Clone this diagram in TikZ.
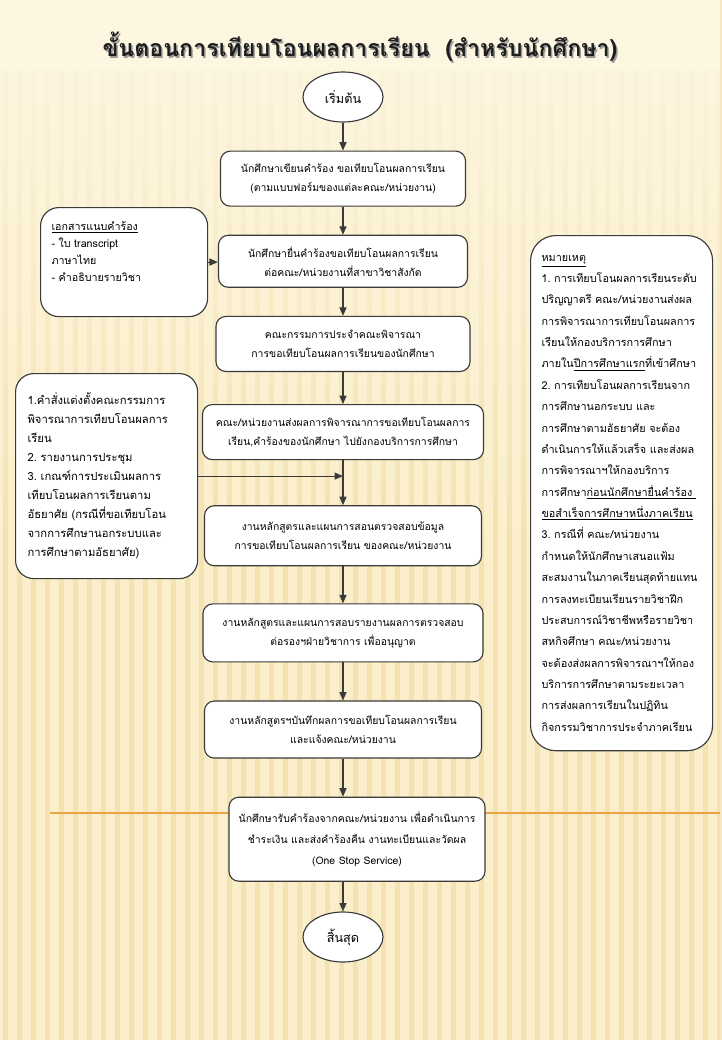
\documentclass[tikz,border=0pt]{standalone}
\usepackage{fontspec}
\setmainfont[Script=Thai]{Loma}
\usepackage{xcolor}
\usetikzlibrary{shapes.geometric,arrows.meta,positioning,calc,fadings}
\definecolor{paper}{HTML}{FBEFCB}
\definecolor{paperlight}{HTML}{FDF6E0}
\definecolor{stripe}{HTML}{F1DCA2}
\definecolor{edge}{HTML}{3A3A3A}
\definecolor{orangeline}{HTML}{EBA445}
\definecolor{titleink}{HTML}{1E1E1E}

\begin{document}
\begin{tikzpicture}[
    x=0.025cm, y=-0.025cm,
    box/.style={rectangle, draw=edge, fill=white, line width=0.8pt, rounded corners=7pt, minimum height=1.375cm, align=center, font=\fontsize{7.4}{13.5}\selectfont},
    sidebox/.style={rectangle, draw=edge, fill=white, line width=0.8pt, rounded corners=13pt, align=left, anchor=north west, font=\fontsize{7.6}{12}\selectfont},
    terminal/.style={ellipse, draw=edge, fill=white, line width=0.8pt, minimum width=2cm, minimum height=1.25cm, font=\fontsize{9}{12}\selectfont},
    line/.style={-{Triangle[length=6pt,width=5pt]}, line width=0.8pt, draw=edge}
]
    % background
    \fill[paper] (0,0) rectangle (720,1040);
    \foreach \sx in {3,17,...,720} {
        \fill[stripe, opacity=0.65] (\sx,0) rectangle ++(5,1040);
    }
    \fill[paperlight, path fading=south] (0,0) rectangle (720,560);
    \fill[paperlight] (0,0) rectangle (720,70);
    \draw[orangeline, line width=1pt] (50,813) -- (720,813);
    \useasboundingbox (0,0) rectangle (720,1040);

    % title
    \node[font=\fontsize{16.5}{20}\selectfont\bfseries, text=black!40] (titleshadow) at (361.5,48.5) {ขั้นตอนการเทียบโอนผลการเรียน~~(สำหรับนักศึกษา)};
    \node[font=\fontsize{16.5}{20}\selectfont\bfseries, text=titleink] (title) at (360,47) {ขั้นตอนการเทียบโอนผลการเรียน~~(สำหรับนักศึกษา)};

    % main flow
    \node[terminal] (start) at (343,97) {เริ่มต้น};
    \node[box, minimum width=6.125cm, below=0.7cm of start] (write) {นักศึกษาเขียนคำร้อง ขอเทียบโอนผลการเรียน\\(ตามแบบฟอร์มของแต่ละคณะ/หน่วยงาน)};
    \node[box, minimum width=6.225cm, minimum height=1.3cm, below=0.7cm of write] (submit) {นักศึกษายื่นคำร้องขอเทียบโอนผลการเรียน\\ต่อคณะ/หน่วยงานที่สาขาวิชาสังกัด};
    \node[box, minimum width=6.35cm, below=0.7cm of submit] (committee) {คณะกรรมการประจำคณะพิจารณา\\การขอเทียบโอนผลการเรียนของนักศึกษา};
    \node[box, minimum width=7.025cm, below=0.8cm of committee] (forward) {คณะ/หน่วยงานส่งผลการพิจารณาการขอเทียบโอนผลการ\\เรียน,คำร้องของนักศึกษา ไปยังกองบริการการศึกษา};
    \node[box, minimum width=6.925cm, minimum height=1.5cm, below=1.125cm of forward] (check) {งานหลักสูตรและแผนการสอนตรวจสอบข้อมูล\\การขอเทียบโอนผลการเรียน ของคณะ/หน่วยงาน};
    \node[box, minimum width=7cm, minimum height=1.45cm, below=0.925cm of check] (propose) {งานหลักสูตรและแผนการสอบรายงานผลการตรวจสอบ\\ต่อรองฯฝ่ายวิชาการ เพื่ออนุญาต};
    \node[box, minimum width=6.925cm, minimum height=1.425cm, below=0.95cm of propose] (record) {งานหลักสูตรฯบันทึกผลการขอเทียบโอนผลการเรียน\\และแจ้งคณะ/หน่วยงาน};
    \node[box, minimum width=6.4cm, minimum height=2.1cm, below=0.95cm of record, xshift=0.35cm, font=\fontsize{7.4}{15}\selectfont] (onestop) {นักศึกษารับคำร้องจากคณะ/หน่วยงาน เพื่อดำเนินการ\\ชำระเงิน และส่งคำร้องคืน งานทะเบียนและวัดผล\\(One Stop Service)};
    \node[terminal] (finish) at (343,937) {สิ้นสุด};

    % side notes
    \node[sidebox, minimum width=4.175cm, minimum height=2.725cm, text width=3.625cm, inner xsep=0.275cm] (attach) at (40,207) {\underline{เอกสารแนบคำร้อง}\\- ใบ transcript\\ภาษาไทย\\- คำอธิบายรายวิชา\\[3pt]~};
    \node[sidebox, minimum width=4.55cm, minimum height=5.125cm, text width=3.95cm, inner xsep=0.3cm, font=\fontsize{8}{13.5}\selectfont] (docs) at (15,373) {1.คำสั่งแต่งตั้งคณะกรรมการ\\พิจารณาการเทียบโอนผลการ\\เรียน\\2.~รายงานการประชุม\\3.~เกณฑ์การประเมินผลการ\\เทียบโอนผลการเรียนตาม\\อัธยาศัย~(กรณีที่ขอเทียบโอน\\จากการศึกษานอกระบบและ\\การศึกษาตามอัธยาศัย)};
    \node[sidebox, minimum width=4.55cm, minimum height=12.875cm, text width=4cm, inner xsep=0.275cm, rounded corners=18pt, font=\fontsize{7.7}{15.2}\selectfont] (note) at (530,235) {\underline{หมายเหตุ}\\1.~การเทียบโอนผลการเรียนระดับ\\ปริญญาตรี~คณะ/หน่วยงานส่งผล\\การพิจารณาการเทียบโอนผลการ\\เรียนให้กองบริการการศึกษา\\ภายใน\underline{ปีการศึกษาแรก}ที่เข้าศึกษา\\2.~การเทียบโอนผลการเรียนจาก\\การศึกษานอกระบบ~และ\\การศึกษาตามอัธยาศัย~จะต้อง\\ดำเนินการให้แล้วเสร็จ~และส่งผล\\การพิจารณาฯให้กองบริการ\\การศึกษา\underline{ก่อนนักศึกษายื่นคำร้อง~}\\\underline{ขอสำเร็จการศึกษาหนึ่งภาคเรียน}\\3.~กรณีที่~คณะ/หน่วยงาน\\กำหนดให้นักศึกษาเสนอแฟ้ม\\สะสมงานในภาคเรียนสุดท้ายแทน\\การลงทะเบียนเรียนรายวิชาฝึก\\ประสบการณ์วิชาชีพหรือรายวิชา\\สหกิจศึกษา~คณะ/หน่วยงาน\\จะต้องส่งผลการพิจารณาฯให้กอง\\บริการการศึกษาตามระยะเวลา\\การส่งผลการเรียนในปฏิทิน\\กิจกรรมวิชาการประจำภาคเรียน};

    % connectors
    \draw[line] (start) -- (write);
    \draw[line] (write) -- (submit);
    \draw[line] (submit) -- (committee);
    \draw[line] (committee) -- (forward);
    \draw[line] (forward) -- (check);
    \draw[line] (check) -- (propose);
    \draw[line] (propose) -- (record);
    \draw[line] (record.south) -- (record.south |- onestop.north);
    \draw[line] (finish.north |- onestop.south) -- (finish);
    \draw[line] (attach.east) -- (attach.east -| submit.west);
    \draw[line] (docs.east) -- (docs.east -| forward.south);
\end{tikzpicture}
\end{document}
